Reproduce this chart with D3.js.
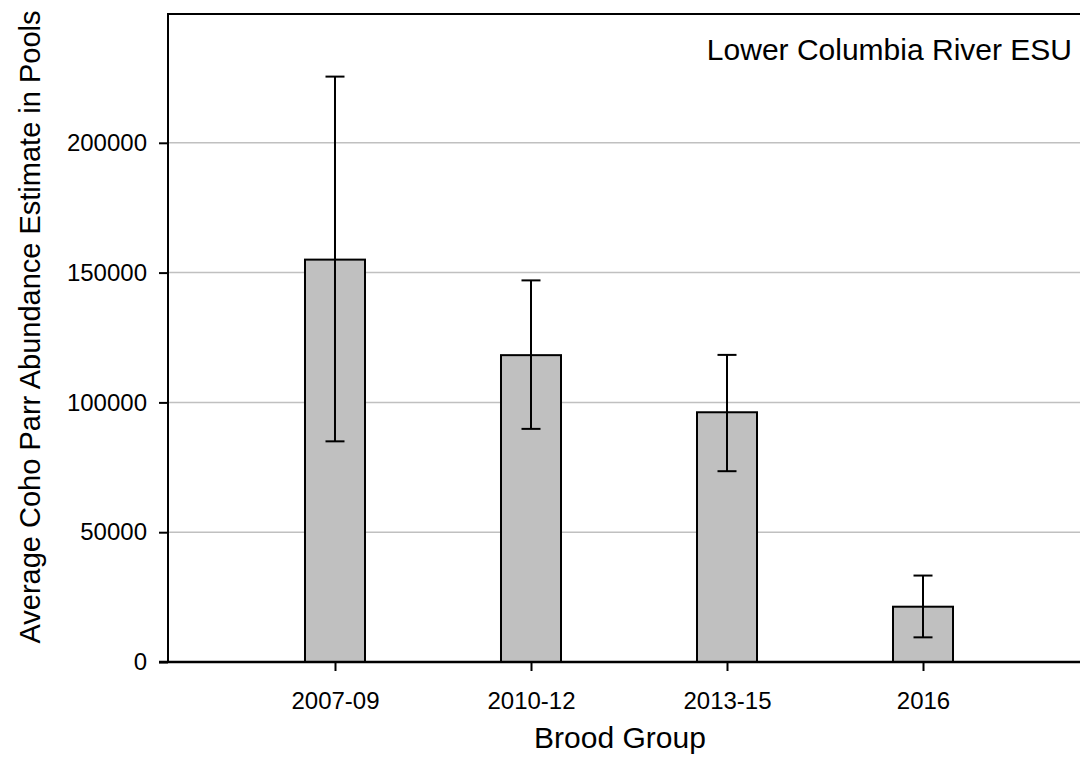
<!DOCTYPE html>
<html>
<head>
<meta charset="utf-8">
<script src="https://cdn.jsdelivr.net/npm/d3@7"></script>
<style>
  html, body { margin: 0; padding: 0; background: #fff; }
  svg { display: block; font-family: "Liberation Sans", Arial, sans-serif; }
</style>
</head>
<body>
<svg id="chart" width="1080" height="759"></svg>
<script>
// Brood groups and mean coho parr abundance (with error bar limits)
const broodGroups = ["2007-09", "2010-12", "2013-15", "2016"];
const meanAbundance = [155000, 118200, 96200, 21300];
const errorUpper = [225500, 147000, 118300, 33300];
const errorLower = [85000, 89800, 73500, 9500];
const yTickValues = [0, 50000, 100000, 150000, 200000];

const W = 1080, H = 759;
const plot = { left: 168, top: 13, right: 1090, bottom: 662 };

const svg = d3.select("#chart");

const x = d3.scalePoint()
  .domain(broodGroups)
  .range([plot.left, plot.right])
  .padding(0.852);

const y = d3.scaleLinear()
  .domain([0, 250000])
  .range([plot.bottom, plot.top]);

// horizontal gridlines
svg.append("g")
  .selectAll("line")
  .data(yTickValues.filter(d => d > 0))
  .join("line")
  .attr("x1", plot.left).attr("x2", W)
  .attr("y1", d => y(d)).attr("y2", d => y(d))
  .attr("stroke", "#c0c0c0")
  .attr("stroke-width", 1.5);

// top frame line
svg.append("line")
  .attr("x1", plot.left).attr("x2", W)
  .attr("y1", plot.top + 1).attr("y2", plot.top + 1)
  .attr("stroke", "#000").attr("stroke-width", 2);

// bars
const barW = 60;
svg.append("g")
  .selectAll("rect")
  .data(broodGroups)
  .join("rect")
  .attr("x", d => x(d) - barW / 2)
  .attr("width", barW)
  .attr("y", (d, i) => y(meanAbundance[i]))
  .attr("height", (d, i) => y(0) - y(meanAbundance[i]))
  .attr("fill", "#c0c0c0")
  .attr("stroke", "#000")
  .attr("stroke-width", 2);

// error bars
const capW = 19;
const eb = svg.append("g").attr("stroke", "#000").attr("stroke-width", 2);
broodGroups.forEach((g, i) => {
  const cx = x(g);
  eb.append("line").attr("x1", cx).attr("x2", cx)
    .attr("y1", y(errorLower[i])).attr("y2", y(errorUpper[i]));
  [errorLower[i], errorUpper[i]].forEach(v => {
    eb.append("line")
      .attr("x1", cx - capW / 2).attr("x2", cx + capW / 2)
      .attr("y1", y(v)).attr("y2", y(v));
  });
});

// y axis
const yAxis = svg.append("g")
  .attr("transform", `translate(${plot.left},0)`)
  .call(d3.axisLeft(y).tickValues(yTickValues).tickSize(9).tickPadding(12).tickFormat(d3.format("d")));
yAxis.select(".domain").attr("d", `M0,${plot.top}V${plot.bottom}`).attr("stroke-width", 2);
yAxis.selectAll(".tick line").attr("stroke-width", 2);
yAxis.selectAll(".tick text").attr("font-size", 24).attr("fill", "#000")
  .attr("font-family", "Liberation Sans, Arial, sans-serif");

// x axis
const xAxis = svg.append("g")
  .attr("transform", `translate(0,${plot.bottom})`)
  .call(d3.axisBottom(x).tickSize(9).tickPadding(21));
xAxis.select(".domain").attr("d", `M${plot.left - 9},0H${W}`).attr("stroke-width", 2.5);
xAxis.selectAll(".tick line").attr("stroke-width", 2);
xAxis.selectAll(".tick text").attr("font-size", 24).attr("fill", "#000")
  .attr("font-family", "Liberation Sans, Arial, sans-serif");

// axis titles
svg.append("text")
  .attr("x", 620).attr("y", 748)
  .attr("text-anchor", "middle")
  .attr("font-size", 30)
  .text("Brood Group");

svg.append("text")
  .attr("transform", `translate(40,327) rotate(-90)`)
  .attr("text-anchor", "middle")
  .attr("font-size", 29)
  .text("Average Coho Parr Abundance Estimate in Pools");

// panel label
svg.append("text")
  .attr("x", 1072).attr("y", 60)
  .attr("text-anchor", "end")
  .attr("font-size", 30)
  .text("Lower Columbia River ESU");
</script>
</body>
</html>
